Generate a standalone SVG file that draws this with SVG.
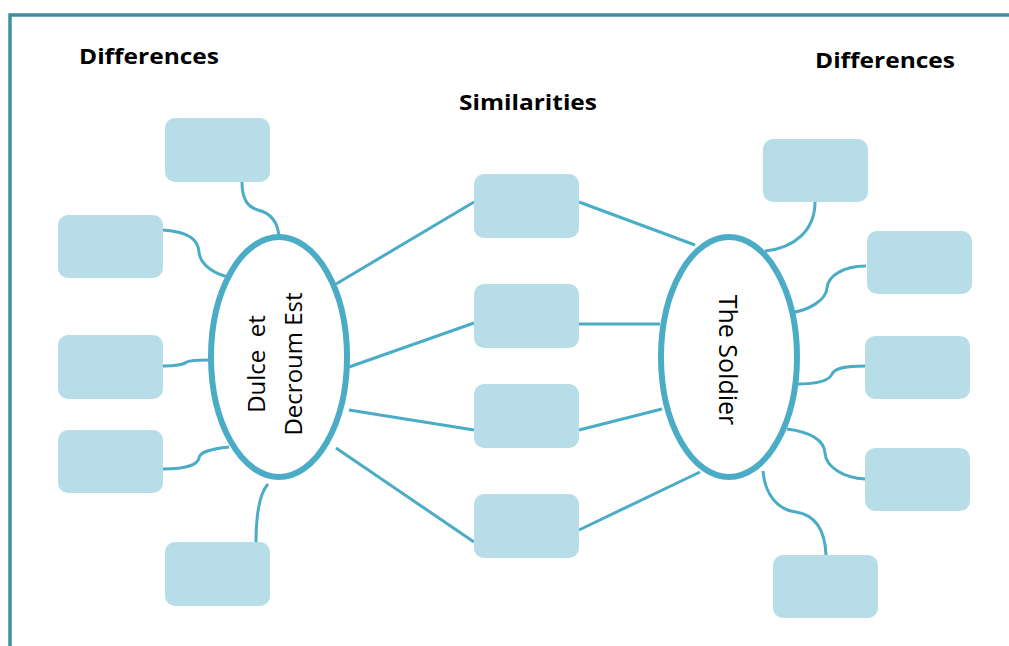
<svg xmlns="http://www.w3.org/2000/svg" width="1009" height="646" viewBox="0 0 1009 646">
<style>
.box{fill:#b7dde8;}
.ell{fill:#fff;stroke:#4bacc6;stroke-width:6;}
.con{fill:none;stroke:#4bacc6;stroke-width:3;}
.title{font-family:"Open Sans","DejaVu Sans",sans-serif;font-weight:bold;font-size:21px;fill:#000;}
.lbl{font-family:"Open Sans","DejaVu Sans",sans-serif;font-size:24px;fill:#000;}
</style>
<rect width="1009" height="646" fill="#fff"/>
<path d="M10,646 V15 H1009" fill="none" stroke="#3d8ea3" stroke-width="3.5"/>
<text class="title" x="79" y="64" textLength="140" lengthAdjust="spacingAndGlyphs">Differences</text>
<text class="title" x="459" y="110" textLength="138" lengthAdjust="spacingAndGlyphs">Similarities</text>
<text class="title" x="815" y="68" textLength="140" lengthAdjust="spacingAndGlyphs">Differences</text>
<g id="connectors">
<path class="con" d="M242,182 C242,200 248,207 258,210 C270,213 278,222 279,237"/>
<path class="con" d="M163,230 C190,232 198,240 199,252 C200,265 215,275 233,278"/>
<path class="con" d="M163,366 C175,366 183,365 187,362 C190,360 200,360 210,360"/>
<path class="con" d="M163,469 C190,469 198,463 199,458 C200,452 210,449 229,447"/>
<path class="con" d="M256,543 C256,520 258,495 268,484"/>
<path class="con" d="M336,284 L474,202"/>
<path class="con" d="M349,367 L474,323"/>
<path class="con" d="M349,410 L474,430"/>
<path class="con" d="M336,448 L474,542"/>
<path class="con" d="M579,202 L695,245"/>
<path class="con" d="M579,324 L660,324"/>
<path class="con" d="M579,430 L662,409"/>
<path class="con" d="M579,530 L700,472"/>
<path class="con" d="M815,202 C815,230 795,248 765,251"/>
<path class="con" d="M866,266 C845,266 828,275 827,288 C826,300 810,310 790,313"/>
<path class="con" d="M865,366 C845,366 835,368 832,374 C829,381 815,384 797,384"/>
<path class="con" d="M787,429 C810,432 824,440 825,453 C826,468 845,478 865,479"/>
<path class="con" d="M763,471 C765,495 778,510 796,512 C815,515 825,530 826,555"/>
</g>
<g id="l1"><rect class="box" x="165" y="118" width="105" height="64" rx="10"/></g>
<g id="l2"><rect class="box" x="58" y="215" width="105" height="63" rx="10"/></g>
<g id="l3"><rect class="box" x="58" y="335" width="105" height="64" rx="10"/></g>
<g id="l4"><rect class="box" x="58" y="430" width="105" height="63" rx="10"/></g>
<g id="l5"><rect class="box" x="165" y="542" width="105" height="64" rx="10"/></g>
<g id="m1"><rect class="box" x="474" y="174" width="105" height="64" rx="10"/></g>
<g id="m2"><rect class="box" x="474" y="284" width="105" height="64" rx="10"/></g>
<g id="m3"><rect class="box" x="474" y="384" width="105" height="64" rx="10"/></g>
<g id="m4"><rect class="box" x="474" y="494" width="105" height="64" rx="10"/></g>
<g id="r1"><rect class="box" x="763" y="139" width="105" height="63" rx="10"/></g>
<g id="r2"><rect class="box" x="867" y="231" width="105" height="63" rx="10"/></g>
<g id="r3"><rect class="box" x="865" y="336" width="105" height="63" rx="10"/></g>
<g id="r4"><rect class="box" x="865" y="448" width="105" height="63" rx="10"/></g>
<g id="r5"><rect class="box" x="773" y="555" width="105" height="63" rx="10"/></g>
<g id="dulce">
<ellipse class="ell" cx="279" cy="357" rx="68" ry="120"/>
<text class="lbl" transform="translate(265,364) rotate(-90)" text-anchor="middle" xml:space="preserve">Dulce  et</text>
<text class="lbl" transform="translate(302,364) rotate(-90)" text-anchor="middle">Decroum Est</text>
</g>
<g id="soldier">
<ellipse class="ell" cx="729" cy="357" rx="68" ry="120"/>
<text class="lbl" style="font-size:25px" transform="translate(719,360) rotate(90)" text-anchor="middle">The Soldier</text>
</g>
</svg>
